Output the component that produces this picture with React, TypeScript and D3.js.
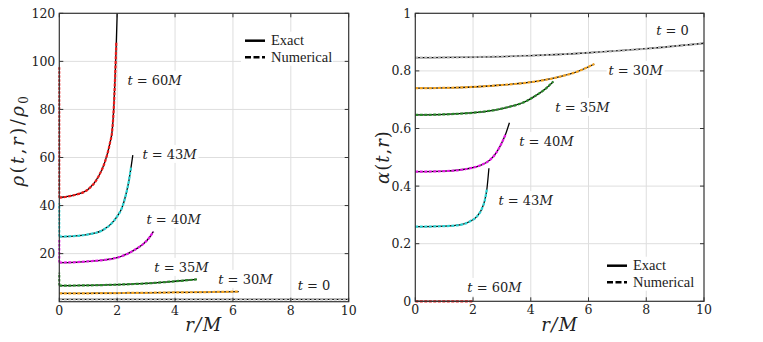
import React from 'react'
import * as d3 from 'd3'

// r/M sample points and values
const rhoT0R = [0, 2, 4, 6, 8, 10]
const rhoT0 = [1, 1, 1, 1, 1, 1]
const rhoT30R = [0, 1, 2, 3, 4, 5, 6.2]
const rhoT30 = [3.5, 3.5, 3.6, 3.7, 3.85, 4.0, 4.2]
const rhoT35R = [0, 1, 2, 3, 4, 4.75]
const rhoT35 = [6.7, 6.8, 7.1, 7.6, 8.5, 9.3]
const rhoT40R = [0, 0.5, 1, 1.5, 2, 2.4, 2.7, 2.9, 3.1, 3.25]
const rhoT40 = [16.3, 16.4, 16.8, 17.3, 18.3, 20.2, 22.3, 24, 26.5, 29.2]
const rhoT43R = [0, 0.5, 1, 1.5, 1.8, 2.0, 2.16, 2.3, 2.4, 2.48, 2.54]
const rhoT43 = [27.1, 27.3, 28, 29.8, 32.5, 35.5, 38.9, 44.5, 50, 56, 61]
const rhoT60R = [0, 0.5, 1, 1.35, 1.58, 1.75, 1.83, 1.88, 1.93, 1.97, 2.0]
const rhoT60 = [43.3, 44.3, 46.8, 52, 58.3, 66, 71.5, 80, 94, 108, 120]
// numerical overshoot at r = 0 (top of the vertical segment)
const rhoSpike = [null, null, 12, 26, 41, 98]

const alT0R = [0, 2, 4, 6, 8, 10]
const alT0 = [0.846, 0.848, 0.853, 0.863, 0.877, 0.896]
const alT30R = [0, 1, 2.13, 3, 3.86, 5.01, 5.6, 6.2]
const alT30 = [0.74, 0.741, 0.745, 0.751, 0.759, 0.78, 0.797, 0.824]
const alT35R = [0, 1, 2.13, 2.8, 3.28, 3.8, 4.2, 4.5, 4.78]
const alT35 = [0.647, 0.649, 0.656, 0.665, 0.676, 0.693, 0.716, 0.737, 0.763]
const alT40R = [0, 1, 1.9, 2.3, 2.59, 2.8, 2.99, 3.12, 3.26]
const alT40 = [0.45, 0.452, 0.462, 0.474, 0.491, 0.515, 0.549, 0.578, 0.62]
const alT43R = [0, 1, 1.55, 1.9, 2.13, 2.3, 2.41, 2.48, 2.55]
const alT43 = [0.259, 0.261, 0.265, 0.278, 0.294, 0.32, 0.352, 0.39, 0.462]
const alT60R = [0, 2]
const alT60 = [0, 0]

// where the numerical curve stops (exact continues a bit further)
const rhoNumEnd = [10, 6.2, 4.75, 3.25, 2.48, 1.97]
const alNumEnd = [10, 6.2, 4.78, 3.2, 2.5, 2]

const times = ['t = 0', 't = 30M', 't = 35M', 't = 40M', 't = 43M', 't = 60M']
const colors = ['#b4b4b4', '#f5a623', '#2a8a2a', '#e619e6', '#2bd4d4', '#ee1c1c']

// label anchors in data units
const rhoLabelR = [8.8, 6.43, 4.22, 3.95, 3.81, 3.29]
const rhoLabelV = [7.0, 9.5, 14.5, 34.5, 61.5, 92.4]
const alLabelR = [8.91, 7.63, 5.79, 4.54, 3.82, 2.74]
const alLabelV = [0.942, 0.803, 0.675, 0.557, 0.352, 0.05]

const xTicks = [0, 2, 4, 6, 8, 10]
const rhoTicks = [20, 40, 60, 80, 100, 120]
const alTicks = [0, 0.2, 0.4, 0.6, 0.8, 1]

const zip = (r: number[], v: number[]) => r.map((d, i) => [d, v[i]] as [number, number])
const rhoSeries = [zip(rhoT0R, rhoT0), zip(rhoT30R, rhoT30), zip(rhoT35R, rhoT35), zip(rhoT40R, rhoT40), zip(rhoT43R, rhoT43), zip(rhoT60R, rhoT60)]
const alSeries = [zip(alT0R, alT0), zip(alT30R, alT30), zip(alT35R, alT35), zip(alT40R, alT40), zip(alT43R, alT43), zip(alT60R, alT60)]

const mathFont = "'DejaVu Serif', serif"

function TLabel({ x, y, text }: { x: number; y: number; text: string }) {
  const m = text.match(/^t = (\d+)(M?)$/)!
  const w = m[2] ? 58 : 38
  return (
    <g>
      <rect x={x - w / 2} y={y - 9} width={w} height={18} fill="#fff" />
      <text x={x} y={y} textAnchor="middle" dominantBaseline="central" fontFamily={mathFont} fontSize={13} fill="#222">
        <tspan fontStyle="italic">t</tspan>
        <tspan>{' = ' + m[1]}</tspan>
        {m[2] && <tspan fontStyle="italic">M</tspan>}
      </text>
    </g>
  )
}

function Panel({ x, y, series, ticks, spikes, numEnd, labR, labV, tickFmt, legend }: any) {
  const [x0, x1] = x.range()
  const [y0, y1] = y.range()
  const line = d3.line<[number, number]>().x(d => x(d[0])).y(d => y(d[1])).curve(d3.curveMonotoneX)
  const tl = 4
  return (
    <g>
      {xTicks.slice(1, -1).map(t => (
        <line key={'gx' + t} x1={x(t)} x2={x(t)} y1={y0} y2={y1} stroke="#dedede" strokeWidth={1} />
      ))}
      {ticks.filter((t: number) => y(t) > y1 + 1 && y(t) < y0 - 1).map((t: number) => (
        <line key={'gy' + t} x1={x0} x2={x1} y1={y(t)} y2={y(t)} stroke="#dedede" strokeWidth={1} />
      ))}
      {labR.map((r: number, i: number) => (
        <TLabel key={'l' + i} x={x(r)} y={y(labV[i])} text={times[i]} />
      ))}
      {series.map((s: [number, number][], i: number) => (
        <path key={'e' + i} d={line(s)!} fill="none" stroke="#000" strokeWidth={1.3} />
      ))}
      {series.map((s: [number, number][], i: number) => {
        const pts = s.filter(p => p[0] <= numEnd[i] + 1e-9)
        return (
          <g key={'n' + i}>
            {spikes && spikes[i] != null && (
              <line x1={x(0)} x2={x(0)} y1={y(s[0][1])} y2={y(spikes[i])} stroke={colors[i]} strokeWidth={2} strokeDasharray="2.5,1.5" />
            )}
            <path d={line(pts)!} fill="none" stroke={colors[i]} strokeWidth={2.2} strokeDasharray="3,1.5" />
          </g>
        )
      })}
      <rect x={x0} y={y1} width={x1 - x0} height={y0 - y1} fill="none" stroke="#333" strokeWidth={1.2} />
      {xTicks.map(t => (
        <g key={'tx' + t}>
          <line x1={x(t)} x2={x(t)} y1={y0} y2={y0 - tl} stroke="#333" />
          <line x1={x(t)} x2={x(t)} y1={y1} y2={y1 + tl} stroke="#333" />
          <text x={x(t)} y={y0 + 13} textAnchor="middle" fontFamily={mathFont} fontSize={12.5} fill="#222">{t}</text>
        </g>
      ))}
      {ticks.map((t: number) => (
        <g key={'ty' + t}>
          <line x1={x0} x2={x0 + tl} y1={y(t)} y2={y(t)} stroke="#333" />
          <line x1={x1} x2={x1 - tl} y1={y(t)} y2={y(t)} stroke="#333" />
          <text x={x0 - 4} y={y(t) + 4.5} textAnchor="end" fontFamily={mathFont} fontSize={12.5} fill="#222">{tickFmt(t)}</text>
        </g>
      ))}
      <g transform={`translate(${legend[0]},${legend[1]})`}>
        <rect x={-4} y={-9} width={92} height={34} fill="#fff" />
        <line x1={0} x2={20} y1={0} y2={0} stroke="#000" strokeWidth={2.5} />
        <line x1={0} x2={20} y1={16.5} y2={16.5} stroke="#000" strokeWidth={2.5} strokeDasharray="6,2.5" />
        <text x={26} y={4.5} fontFamily="'Liberation Serif', serif" fontSize={14.5} fill="#222">Exact</text>
        <text x={26} y={21} fontFamily="'Liberation Serif', serif" fontSize={14.5} fill="#222">Numerical</text>
      </g>
    </g>
  )
}

export default function App() {
  const xL = d3.scaleLinear().domain([0, 10]).range([59.3, 348.7])
  const yL = d3.scaleLinear().domain([0, 120]).range([301.7, 13.3])
  const xR = d3.scaleLinear().domain([0, 10]).range([415.3, 704])
  const yR = d3.scaleLinear().domain([0, 1]).range([301.3, 13.3])
  return (
    <svg width={763} height={342} style={{ position: 'absolute', left: 0, top: 0, background: '#fff' }}>
      <Panel x={xL} y={yL} series={rhoSeries} ticks={rhoTicks} spikes={rhoSpike} numEnd={rhoNumEnd}
        labR={rhoLabelR} labV={rhoLabelV} tickFmt={(t: number) => String(t)} legend={[245, 40.7]} />
      <Panel x={xR} y={yR} series={alSeries} ticks={alTicks} spikes={null} numEnd={alNumEnd}
        labR={alLabelR} labV={alLabelV} tickFmt={(t: number) => String(t)} legend={[607, 265.7]} />
      <text x={204} y={331} textAnchor="middle" fontFamily={mathFont} fontStyle="italic" fontSize={18} letterSpacing={1.5} fill="#222">r/M</text>
      <text x={560} y={331} textAnchor="middle" fontFamily={mathFont} fontStyle="italic" fontSize={18} letterSpacing={1.5} fill="#222">r/M</text>
      <text transform="translate(24,140) rotate(-90)" textAnchor="middle" fontFamily={mathFont} fontStyle="italic" fontSize={18} letterSpacing={2.5} fill="#222">
        ρ<tspan fontStyle="normal">(</tspan>t<tspan fontStyle="normal">,</tspan>r<tspan fontStyle="normal">)/</tspan>ρ<tspan fontStyle="normal" fontSize={12} dy={4}>0</tspan>
      </text>
      <text transform="translate(389,157) rotate(-90)" textAnchor="middle" fontFamily={mathFont} fontStyle="italic" fontSize={18} letterSpacing={1} fill="#222">
        α<tspan fontStyle="normal">(</tspan>t<tspan fontStyle="normal">,</tspan>r<tspan fontStyle="normal">)</tspan>
      </text>
    </svg>
  )
}
